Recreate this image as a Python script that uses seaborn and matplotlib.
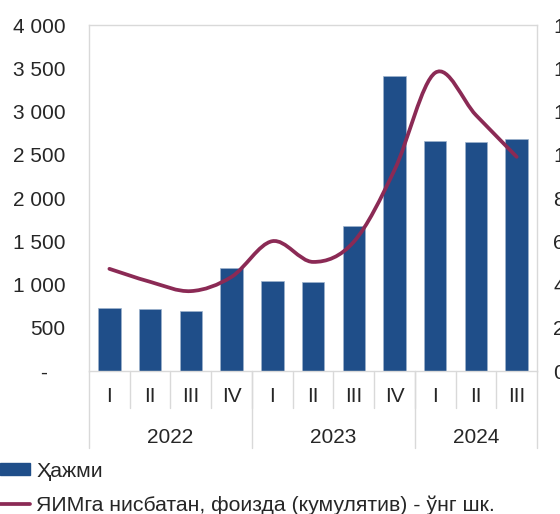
import numpy as np
import pandas as pd
import seaborn as sns
import matplotlib.pyplot as plt
from matplotlib.path import Path
from matplotlib.patches import PathPatch, Patch
from matplotlib.lines import Line2D
import matplotlib.transforms as mtransforms

sns.set_style("white")
plt.rcParams["font.family"] = ["Liberation Sans", "DejaVu Sans"]

quarters = ["I", "II", "III", "IV", "I", "II", "III", "IV", "I", "II", "III"]
years = ["2022", "2023", "2024"]
year_sizes = [4, 4, 3]
volume = [725, 717, 694, 1187, 1040, 1032, 1676, 3410, 2659, 2647, 2682]
share_gdp = [4.73, 4.13, 3.70, 4.36, 6.01, 5.05, 5.98, 9.3, 13.8, 11.84, 9.91]

bar_label = "Ҳажми"
line_label = "ЯИМга нисбатан, фоизда (кумулятив) - ўнг шк."
bar_color = "#1F4E89"
line_color = "#8B2A55"
grid_color = "#D9D9D9"
fs = 15

df = pd.DataFrame({"pos": range(len(quarters)), "volume": volume, "share": share_gdp})

fig = plt.figure(figsize=(5.6, 5.14), dpi=100)
ax = fig.add_axes([0.159, 0.278, 0.8, 0.673])

sns.barplot(data=df, x="pos", y="volume", color=bar_color, width=0.55,
            edgecolor="#9DB2CC", linewidth=0.5, saturation=1, ax=ax)
ax.set_xlim(-0.5, len(quarters) - 0.5)
ax.set_ylim(0, 4000)
ax.set_yticks(np.arange(0, 4001, 500))
ax.set_yticklabels(["-   "] + [f"{v:,}".replace(",", " ") for v in range(500, 4001, 500)])
ax.set_xticks([])
ax.set_xlabel("")
ax.set_ylabel("")
ax.tick_params(axis="y", length=0, labelsize=fs, pad=17)
for s in ax.spines.values():
    s.set_color(grid_color)
    s.set_linewidth(1)

# smoothed line (excel style bezier) on the right axis
ax2 = ax.twinx()
ax2.set_ylim(0, 16)
ax2.set_yticks(np.arange(0, 17, 2))
ax2.tick_params(axis="y", length=0, labelsize=fs, pad=11.5)
for s in ax2.spines.values():
    s.set_visible(False)
x = df["pos"].to_numpy(float)
y = df["share"].to_numpy(float)
verts = [(x[0], y[0])]
codes = [Path.MOVETO]
n = len(x)
for i in range(n - 1):
    p0 = (x[max(i - 1, 0)], y[max(i - 1, 0)])
    p3 = (x[min(i + 2, n - 1)], y[min(i + 2, n - 1)])
    c1 = (x[i] + (x[i + 1] - p0[0]) / 6, y[i] + (y[i + 1] - p0[1]) / 6)
    c2 = (x[i + 1] - (p3[0] - x[i]) / 6, y[i + 1] - (p3[1] - y[i]) / 6)
    verts += [c1, c2, (x[i + 1], y[i + 1])]
    codes += [Path.CURVE4] * 3
ax2.add_patch(PathPatch(Path(verts, codes), facecolor="none", edgecolor=line_color,
                        linewidth=2.7, capstyle="round"))

# category axis labels and separators
trans = mtransforms.blended_transform_factory(ax.transData, ax.transAxes)
for i, q in enumerate(quarters):
    ax.text(i, -0.074, q, transform=trans, ha="center", va="center", fontsize=fs)
for b in np.arange(0.5, len(quarters) - 1, 1):
    ax.plot([b, b], [0, -0.107], transform=trans, color=grid_color, lw=1, clip_on=False)
start = 0
edges = [-0.5]
for yr, sz in zip(years, year_sizes):
    ax.text(start + (sz - 1) / 2, -0.192, yr, transform=trans, ha="center", va="center", fontsize=fs)
    start += sz
    edges.append(start - 0.5)
for e in edges:
    ax.plot([e, e], [0, -0.223], transform=trans, color=grid_color, lw=1, clip_on=False)

handles = [Patch(facecolor=bar_color, edgecolor=bar_color),
           Line2D([], [], color=line_color, lw=2.7)]
fig.legend(handles, [bar_label, line_label], loc="upper left", bbox_to_anchor=(0.0, 0.102),
           frameon=False, fontsize=15.3, handlelength=1.4, handleheight=0.55,
           handletextpad=0.3, labelspacing=0.7, borderpad=0, borderaxespad=0)

fig.savefig("out.png", dpi=100)
